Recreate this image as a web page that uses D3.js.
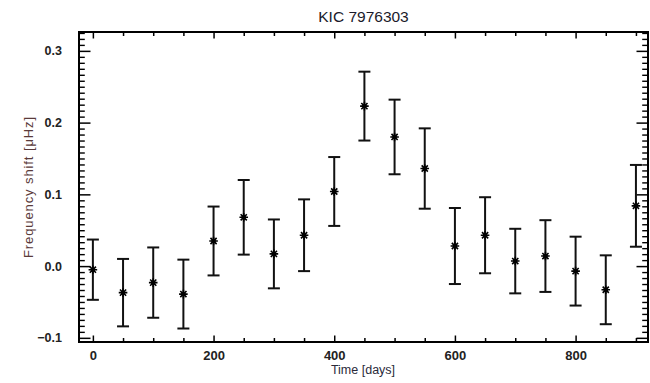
<!DOCTYPE html>
<html>
<head>
<meta charset="utf-8">
<script src="https://cdn.jsdelivr.net/npm/d3@7"></script>
<style>
  html, body { margin: 0; padding: 0; background: #fff; }
  svg { display: block; font-family: "Liberation Sans", Arial, Helvetica, sans-serif; }
</style>
</head>
<body>
<svg id="chart" width="650" height="383"></svg>
<script>
// ---- data ----
const times = [0, 50, 100, 150, 200, 250, 300, 350, 400, 450, 500, 550, 600, 650, 700, 750, 800, 850, 900];
const shifts = [-0.005, -0.037, -0.023, -0.039, 0.035, 0.068, 0.017, 0.043, 0.104, 0.223, 0.180, 0.136, 0.028, 0.043, 0.007, 0.014, -0.007, -0.033, 0.084];
const errors = [0.042, 0.047, 0.049, 0.048, 0.048, 0.052, 0.048, 0.050, 0.048, 0.048, 0.052, 0.056, 0.053, 0.053, 0.045, 0.050, 0.048, 0.048, 0.057];
const xTickValues = [0, 200, 400, 600, 800];
const xTickLabels = ["0", "200", "400", "600", "800"];
const yTickValues = [-0.1, 0.0, 0.1, 0.2, 0.3];
const yTickLabels = ["\u22120.1", "0.0", "0.1", "0.2", "0.3"];
const titleText = "KIC 7976303";
const xLabel = "Time [days]";
const yLabel = "Frequency shift [\u03bcHz]";

(function () {
// ---- layout ----
const pL = 79, pR = 648, pT = 32, pB = 342;
const svg = d3.select("#chart");

const x = d3.scaleLinear().domain([-23, 920]).range([pL, pR]);
const y = d3.scaleLinear().domain([-0.1058, 0.3263]).range([pB, pT]);

const yMajorLen = 11.5, yMinorLen = 5.8;
const xMajorLen = 6.5, xMinorLen = 4;

const g = svg.append("g");

const xMinor = d3.range(0, 920, 50).filter(v => !xTickValues.includes(v));
const yMinor = d3.range(-12, 40).map(i => i * 0.1 / 12)
  .filter(v => v > -0.1058 && v < 0.3263)
  .filter(v => !yTickValues.some(t => Math.abs(t - v) < 1e-6));

function styleAxis(sel, w) {
  sel.select(".domain").remove();
  sel.selectAll("line").attr("stroke", "#000").attr("stroke-width", w);
}

// Bottom axis
const gxb = g.append("g").attr("transform", `translate(0,${pB})`)
  .call(d3.axisBottom(x).tickValues(xTickValues).tickFormat((d, i) => xTickLabels[i])
    .tickSizeInner(-xMajorLen).tickSizeOuter(0).tickPadding(13));
styleAxis(gxb, 1.5);
gxb.selectAll("text").attr("font-size", 13).attr("font-weight", "bold").attr("fill", "#222").attr("dy", "0.35em");
styleAxis(g.append("g").attr("transform", `translate(0,${pB})`)
  .call(d3.axisBottom(x).tickValues(xMinor).tickFormat("").tickSizeInner(-xMinorLen).tickSizeOuter(0)), 1.5);

// Top axis
styleAxis(g.append("g").attr("transform", `translate(0,${pT})`)
  .call(d3.axisTop(x).tickValues(xTickValues).tickFormat("").tickSizeInner(-xMajorLen).tickSizeOuter(0)), 1.5);
styleAxis(g.append("g").attr("transform", `translate(0,${pT})`)
  .call(d3.axisTop(x).tickValues(xMinor).tickFormat("").tickSizeInner(-xMinorLen).tickSizeOuter(0)), 1.5);

// Left axis
const gyl = g.append("g").attr("transform", `translate(${pL},0)`)
  .call(d3.axisLeft(y).tickValues(yTickValues).tickFormat((d, i) => yTickLabels[i])
    .tickSizeInner(-yMajorLen).tickSizeOuter(0).tickPadding(17));
styleAxis(gyl, 1.5);
gyl.selectAll("text").attr("font-size", 12.5).attr("font-weight", "bold").attr("fill", "#222");
styleAxis(g.append("g").attr("transform", `translate(${pL},0)`)
  .call(d3.axisLeft(y).tickValues(yMinor).tickFormat("").tickSizeInner(-yMinorLen).tickSizeOuter(0)), 1.4);

// Right axis
styleAxis(g.append("g").attr("transform", `translate(${pR},0)`)
  .call(d3.axisRight(y).tickValues(yTickValues).tickFormat("").tickSizeInner(-yMajorLen).tickSizeOuter(0)), 1.5);
styleAxis(g.append("g").attr("transform", `translate(${pR},0)`)
  .call(d3.axisRight(y).tickValues(yMinor).tickFormat("").tickSizeInner(-yMinorLen).tickSizeOuter(0)), 1.4);

// Frame
g.append("rect").attr("x", pL).attr("y", pT).attr("width", pR - pL).attr("height", pB - pT)
  .attr("fill", "none").attr("stroke", "#000").attr("stroke-width", 2);

// Error bars
const data = times.map((t, i) => ({ t, v: shifts[i], e: errors[i] }));
const capW = 6;
const eb = g.append("g").attr("stroke", "#111").attr("stroke-width", 2).attr("fill", "none");
eb.selectAll("line.v").data(data).join("line").attr("class", "v")
  .attr("x1", d => x(d.t)).attr("x2", d => x(d.t))
  .attr("y1", d => y(d.v + d.e)).attr("y2", d => y(d.v - d.e));
eb.selectAll("line.ct").data(data).join("line").attr("class", "ct")
  .attr("x1", d => x(d.t) - capW).attr("x2", d => x(d.t) + capW)
  .attr("y1", d => y(d.v + d.e)).attr("y2", d => y(d.v + d.e));
eb.selectAll("line.cb").data(data).join("line").attr("class", "cb")
  .attr("x1", d => x(d.t) - capW).attr("x2", d => x(d.t) + capW)
  .attr("y1", d => y(d.v - d.e)).attr("y2", d => y(d.v - d.e));

// Asterisk markers
const r = 4.3;
const mk = g.append("g").attr("stroke", "#000").attr("stroke-width", 1.6);
const asterisk = `M0,${-r}L0,${r}M${-r},0L${r},0M${-r*0.72},${-r*0.72}L${r*0.72},${r*0.72}M${-r*0.72},${r*0.72}L${r*0.72},${-r*0.72}`;
mk.selectAll("path").data(data).join("path")
  .attr("transform", d => `translate(${x(d.t)},${y(d.v)})`)
  .attr("d", asterisk);
mk.selectAll("circle").data(data).join("circle")
  .attr("cx", d => x(d.t)).attr("cy", d => y(d.v)).attr("r", 2.2).attr("fill", "#000").attr("stroke", "none");

// Titles
svg.append("text").attr("x", (pL + pR) / 2).attr("y", 22).attr("text-anchor", "middle")
  .attr("font-size", 15.5).attr("fill", "#1a1a2a").text(titleText);
svg.append("text").attr("x", (pL + pR) / 2 - 0.5).attr("y", 374).attr("text-anchor", "middle")
  .attr("font-size", 12.5).attr("fill", "#2a2a3a").text(xLabel);
svg.append("text").attr("transform", `translate(33,187) rotate(-90)`)
  .attr("text-anchor", "middle").attr("font-size", 13).attr("letter-spacing", 0.9)
  .attr("fill", "#5a3a3a").text(yLabel);
})();
</script>
</body>
</html>
